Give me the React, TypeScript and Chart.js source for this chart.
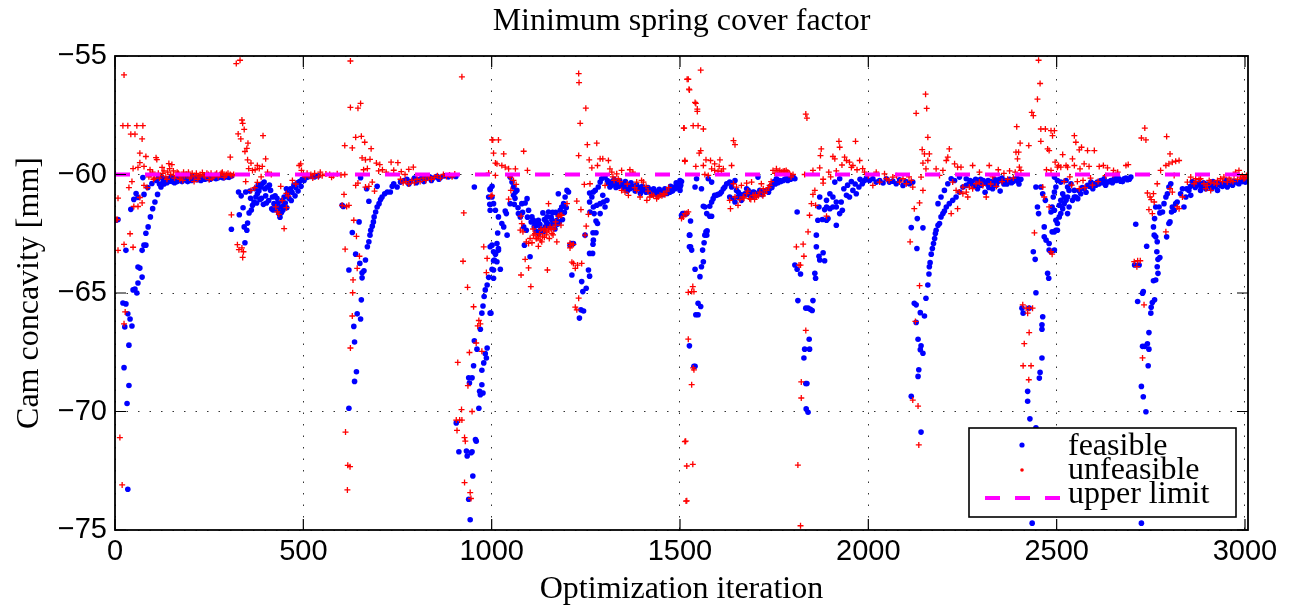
import React, { useEffect, useRef } from "react";
import { Chart, registerables } from "chart.js";

Chart.register(...registerables);

const chartTitle = "Minimum spring cover factor";
const xTitle = "Optimization iteration";
const yTitle = "Cam concavity [mm]";
const xTicks = [0, 500, 1000, 1500, 2000, 2500, 3000];
const yTicks = [-75, -70, -65, -60, -55];
const xRange = [0, 3008];
const yRange = [-75, -55];
const upperLimit = -60;
const legendLabels = ["feasible", "unfeasible", "upper limit"];

// feasible designs: [iteration, concavity]
const feasible: number[][] = [
  [3,-61.93],[8,-61.9],[21,-65.42],[24,-68.15],[26,-66.43],[29,-65.46],[29,-63.2],[32,-69.66],[34,-65.88],[34,-73.28],
  [37,-67.2],[37,-68.9],[40,-66.1],[42,-61.47],[45,-66.39],[48,-64.87],[50,-61.05],[53,-64.83],[56,-60.8],[58,-65.0],
  [61,-64.58],[61,-63.9],[61,-60.97],[66,-63.95],[72,-64.33],[72,-63.2],[74,-60.13],[77,-62.98],[77,-60.84],[82,-62.98],
  [82,-62.48],[87,-60.55],[88,-62.21],[94,-61.79],[98,-60.38],[100,-61.44],[106,-61.16],[113,-60.84],[122,-60.53],[131,-60.3],
  [140,-60.18],[110,-60.25],[115,-60.15],[125,-60.12],[130,-60.4],[135,-60.2],[145,-60.28],[150,-60.1],[155,-60.22],[160,-60.15],
  [165,-60.3],[170,-60.12],[175,-60.2],[180,-60.1],[185,-60.18],[190,-60.25],[195,-60.12],[200,-60.16],[205,-60.08],[210,-60.2],
  [215,-60.12],[220,-60.15],[225,-60.1],[230,-60.18],[235,-60.08],[240,-60.12],[245,-60.1],[250,-60.15],[255,-60.06],[260,-60.1],
  [265,-60.12],[270,-60.05],[275,-60.1],[280,-60.08],[285,-60.05],[290,-60.1],[295,-60.04],[300,-60.08],[305,-60.04],[310,-60.06],
  [309,-62.31],[328,-60.74],[330,-61.7],[343,-62.21],[345,-62.88],[347,-60.74],[350,-62.35],[352,-62.05],[356,-61.62],[365,-61.3],
  [369,-61.16],[374,-60.95],[378,-60.81],[382,-60.7],[387,-60.53],[391,-60.39],[394,-61.26],[396,-60.32],[405,-60.53],[413,-60.67],
  [418,-60.95],[422,-61.23],[427,-61.37],[431,-61.51],[435,-61.65],[440,-61.37],[444,-61.1],[449,-60.95],[458,-60.8],[466,-60.6],
  [475,-60.45],[484,-60.35],[497,-60.2],[511,-60.12],[360,-61.0],[372,-60.6],[380,-60.45],[385,-61.05],[400,-60.9],[408,-61.1],
  [410,-60.45],[416,-61.45],[425,-60.9],[433,-61.2],[438,-61.8],[446,-61.5],[452,-61.2],[455,-60.6],[462,-61.0],[470,-60.75],
  [480,-60.55],[490,-60.3],[502,-60.25],[505,-60.1],[515,-60.05],[520,-60.08],[530,-60.1],[540,-60.05],
  [603,-61.3],[606,-61.35],[621,-69.86],[621,-64.03],[630,-62.45],[634,-66.41],[636,-67.07],[636,-68.73],[639,-63.36],[641,-68.32],
  [643,-65.88],[648,-62.0],[650,-63.75],[652,-66.1],[652,-60.14],[654,-65.29],[656,-64.15],[656,-64.36],[661,-64.06],[665,-63.61],
  [668,-60.6],[670,-63.05],[674,-62.84],[674,-61.13],[677,-62.56],[679,-62.35],[683,-62.18],[686,-62.0],[688,-61.79],[692,-61.58],
  [696,-61.37],[696,-60.5],[701,-61.23],[705,-61.06],[709,-60.95],[716,-60.81],[723,-60.74],[731,-60.74],[736,-60.5],[740,-60.39],
  [749,-60.53],[758,-60.32],[767,-60.25],[775,-60.2],[785,-60.3],[795,-60.15],[805,-60.22],[815,-60.12],[825,-60.18],[835,-60.1],
  [845,-60.15],[855,-60.08],[865,-60.12],[875,-60.06],[885,-60.1],[895,-60.05],[905,-60.08],[780,-60.4],[800,-60.35],[820,-60.3],
  [840,-60.25],[860,-60.2],
  [906,-70.48],[913,-71.7],[933,-71.67],[935,-71.88],[939,-73.7],[939,-68.58],[941,-68.8],[943,-74.57],[945,-71.74],[948,-71.7],
  [948,-68.58],[950,-72.72],[952,-68.07],[954,-67.02],[954,-60.53],[957,-71.18],[959,-71.25],[961,-67.37],[966,-69.86],[968,-69.15],
  [970,-69.29],[970,-66.53],[974,-68.87],[974,-68.26],[974,-65.85],[977,-69.22],[977,-65.55],[979,-67.95],[980,-65.15],[983,-67.56],
  [983,-64.87],[986,-67.74],[988,-67.32],[988,-64.66],[992,-64.34],[992,-60.95],[995,-61.26],[996,-61.51],[996,-60.64],[998,-65.85],
  [1001,-64.0],[1001,-62.98],[1001,-60.5],[1005,-63.64],[1005,-63.26],[1010,-63.36],[1014,-62.91],[1014,-63.68],[1016,-62.47],[1018,-63.2],
  [996,-60.6],[1001,-60.95],[1005,-61.23],[1010,-61.51],[1018,-61.79],[1027,-62.07],[1032,-62.21],[1041,-62.56],[996,-63.05],[1018,-63.12],
  [1010,-63.33],[1007,-63.61],[1005,-64.03],[1005,-64.38],[1023,-64.0],[996,-65.85],[1039,-61.65],[1036,-61.54],
  [1049,-60.11],[1054,-60.32],[1058,-60.53],[1063,-60.74],[1067,-60.67],[1058,-60.88],[1049,-61.23],[1060,-61.26],[1071,-61.65],[1076,-61.79],
  [1080,-61.23],[1089,-61.2],[1094,-61.02],[1085,-62.21],[1092,-62.35],[1087,-62.98],[1102,-63.47],[1098,-61.51],[1107,-61.79],[1111,-61.93],
  [1116,-62.07],[1120,-62.14],[1124,-61.93],[1136,-61.62],[1142,-62.21],[1151,-61.58],[1147,-61.79],[1160,-61.93],[1164,-62.07],[1173,-61.93],
  [1177,-61.72],[1182,-61.51],[1186,-61.37],[1191,-61.23],[1195,-60.95],[1200,-60.67],[1204,-60.74],[1177,-60.81],[1208,-62.98],[1213,-62.91],
  [1217,-62.91],[1213,-64.24],[1130,-62.3],[1138,-62.4],[1145,-62.0],[1155,-62.2],[1168,-62.3],[1170,-61.6],[1180,-62.0],[1125,-62.5],
  [1233,-66.06],[1237,-65.71],[1244,-65.76],[1242,-64.94],[1251,-64.8],[1239,-64.52],[1257,-64.03],[1260,-64.29],
  [1248,-62.56],[1260,-63.33],[1269,-62.94],[1270,-62.77],[1269,-62.46],[1277,-62.46],[1281,-62.07],[1277,-61.96],[1288,-61.65],[1272,-61.65],
  [1261,-61.58],[1270,-61.37],[1279,-61.3],[1288,-61.23],[1260,-61.16],[1266,-60.95],[1260,-60.78],[1270,-60.74],[1275,-60.67],[1283,-60.53],
  [1288,-60.32],[1292,-60.18],[1301,-60.11],[1307,-60.25],[1310,-60.39],[1314,-60.53],[1306,-61.09],[1301,-61.37],[1297,-61.16],[1295,-60.88],
  [1268,-63.33],
  [1320,-60.3],[1328,-60.4],[1335,-60.35],[1342,-60.45],[1350,-60.4],[1357,-60.5],[1364,-60.45],[1371,-60.55],[1378,-60.5],[1385,-60.6],
  [1392,-60.55],[1399,-60.65],[1406,-60.6],[1413,-60.7],[1420,-60.65],[1427,-60.75],[1434,-60.7],[1441,-60.8],[1448,-60.75],[1455,-60.7],
  [1462,-60.72],[1469,-60.65],[1476,-60.6],[1483,-60.55],[1490,-60.45],[1497,-60.4],[1504,-60.3],[1325,-60.2],[1340,-60.25],[1355,-60.3],
  [1370,-60.35],[1385,-60.45],[1400,-60.5],[1415,-60.55],[1430,-60.6],[1445,-60.62],[1460,-60.6],[1475,-60.5],[1490,-60.35],[1500,-60.25],
  [1330,-60.55],[1360,-60.7],[1395,-60.8],[1425,-60.85],[1455,-60.85],[1480,-60.7],
  [1500,-60.53],[1500,-60.67],[1504,-61.72],[1507,-61.65],[1510,-61.65],[1513,-61.68],[1518,-61.65],[1525,-62.56],[1525,-63.05],[1525,-67.23],
  [1526,-62.56],[1528,-63.05],[1531,-63.19],[1528,-61.96],[1540,-64.0],[1557,-63.89],[1553,-64.31],[1560,-63.19],[1562,-63.68],[1564,-62.88],
  [1566,-62.56],[1569,-62.42],[1571,-62.56],[1572,-62.38],[1548,-65.43],[1555,-65.57],[1542,-65.92],[1548,-65.92],[1537,-68.09],[1540,-68.09],
  [1540,-60.53],[1557,-60.6],[1562,-61.34],[1566,-61.37],[1571,-61.65],[1579,-61.76],[1584,-61.76],[1579,-61.34],[1584,-61.16],[1588,-61.02],
  [1592,-60.88],[1597,-60.88],[1601,-60.84],[1606,-60.81],[1610,-60.74],[1615,-60.6],[1619,-60.53],[1624,-60.39],[1544,-60.18],[1575,-60.18],
  [1584,-60.32],[1632,-60.32],[1637,-60.53],[1632,-60.95],[1642,-61.02],[1646,-61.16],[1654,-60.95],[1663,-61.09],[1672,-60.81],[1681,-60.67],
  [1685,-60.88],[1694,-60.74],[1703,-60.81],[1712,-60.67],[1721,-60.74],[1730,-60.67],[1738,-60.6],[1747,-60.39],[1756,-60.18],[1765,-60.25],
  [1774,-60.25],[1782,-60.18],[1796,-60.18],[1805,-60.18],[1650,-60.67],[1677,-60.6],[1707,-60.11],[1637,-60.39],[1646,-60.25],[1660,-60.85],
  [1690,-60.95],[1700,-60.9],[1718,-60.85],[1740,-60.5],[1750,-60.3],[1760,-60.35],[1790,-60.12],[1800,-60.1],
  [1811,-61.58],[1805,-63.82],[1811,-64.0],[1820,-64.2],[1813,-65.32],[1834,-65.64],[1840,-65.64],[1853,-65.32],[1846,-65.69],[1851,-65.74],
  [1843,-66.95],[1844,-67.37],[1831,-67.37],[1829,-67.74],[1834,-68.82],[1837,-68.82],[1835,-69.89],[1840,-70.03],[1858,-64.17],[1860,-64.38],
  [1862,-63.05],[1869,-63.45],[1880,-63.3],[1871,-63.61],[1884,-63.64],[1862,-62.56],[1866,-61.93],[1878,-61.9],[1889,-61.93],[1893,-61.86],
  [1884,-61.48],[1889,-61.37],[1898,-61.44],[1906,-61.37],[1915,-61.37],[1924,-61.65],[1931,-61.51],[1915,-62.14],[1869,-61.37],[1871,-60.95],
  [1889,-61.09],[1898,-60.81],[1906,-60.95],[1915,-61.16],[1928,-61.16],[1942,-60.88],[1950,-60.95],[1959,-60.67],[1968,-60.81],[1975,-60.53],
  [1984,-60.39],[1911,-60.32],[1924,-60.18],[1935,-60.6],[1945,-60.45],[1955,-60.3],[1965,-60.4],[1978,-60.2],[1990,-60.25],
  [2003,-60.25],[2021,-60.32],[2039,-60.36],[2056,-60.32],[2074,-60.39],[2092,-60.46],[2109,-60.39],[2118,-60.32],[2012,-60.18],[2048,-60.18],
  [2083,-60.22],[1995,-60.15],[2030,-60.25],[2065,-60.28],[2100,-60.3],
  [2114,-62.24],[2130,-61.86],[2145,-62.25],[2129,-63.12],[2122,-65.43],[2127,-65.5],[2127,-66.24],[2138,-65.83],[2149,-65.97],[2132,-66.95],
  [2140,-67.23],[2145,-67.54],[2138,-67.39],[2134,-68.24],[2132,-68.52],[2114,-69.36],[2140,-70.87],
  [2153,-65.22],[2158,-64.66],[2161,-64.2],[2162,-63.89],[2164,-63.72],[2167,-63.36],[2170,-63.12],[2173,-62.91],[2176,-62.7],[2178,-62.49],
  [2180,-62.35],[2185,-62.14],[2189,-62.07],[2193,-61.79],[2198,-61.65],[2202,-61.54],[2207,-61.37],[2215,-61.23],[2224,-61.09],[2233,-60.95],
  [2242,-60.74],[2251,-60.53],[2260,-60.46],[2268,-60.39],[2185,-61.23],[2193,-60.95],[2202,-60.67],[2211,-60.39],[2220,-60.18],[2229,-60.25],
  [2242,-60.11],[2260,-60.18],
  [2275,-60.3],[2285,-60.2],[2295,-60.35],[2305,-60.25],[2315,-60.4],[2325,-60.3],[2335,-60.2],[2345,-60.3],[2355,-60.15],[2365,-60.25],
  [2375,-60.2],[2385,-60.3],[2395,-60.15],[2405,-60.2],[2280,-60.5],[2300,-60.45],[2320,-60.55],[2340,-60.45],[2360,-60.4],[2380,-60.35],
  [2400,-60.4],[2290,-60.6],[2330,-60.6],[2310,-60.75],[2350,-60.7],
  [2408,-65.64],[2411,-65.85],[2427,-65.64],[2445,-64.99],[2463,-66.0],[2461,-66.34],[2461,-66.53],[2461,-67.74],[2456,-68.35],[2454,-68.59],
  [2423,-69.15],[2423,-69.57],[2429,-70.31],[2445,-70.69],[2449,-71.04],[2435,-74.71],
  [2438,-63.26],[2443,-63.58],[2449,-61.37],[2452,-61.65],[2445,-60.53],[2458,-60.53],[2463,-60.81],[2470,-61.09],[2467,-62.21],[2467,-62.63],
  [2472,-62.77],[2480,-62.91],[2480,-63.19],[2485,-63.26],[2476,-64.17],[2479,-64.38],[2485,-61.58],[2488,-61.37],[2491,-60.95],[2494,-60.74],
  [2498,-60.53],[2488,-62.42],[2494,-62.42],[2498,-62.35],[2502,-62.07],[2507,-61.79],[2511,-61.65],[2516,-61.44],[2520,-61.23],[2525,-61.09],
  [2529,-60.95],[2533,-60.67],[2494,-60.11],[2502,-60.25],[2511,-60.32],[2525,-60.25],
  [2494,-61.51],[2498,-61.93],[2502,-62.35],[2494,-63.19],[2507,-61.3],[2511,-61.09],[2516,-60.81],[2520,-60.95],[2529,-60.53],[2538,-60.39],
  [2547,-60.67],[2551,-60.95],[2556,-61.02],[2564,-60.81],[2573,-60.6],[2582,-60.46],[2591,-60.32],[2600,-60.39],[2608,-60.32],[2617,-60.25],
  [2626,-60.18],[2635,-60.32],[2644,-60.25],[2653,-60.18],[2662,-60.11],[2670,-60.28],[2679,-60.18],[2688,-60.22],[2697,-60.11],[2542,-61.09],
  [2547,-60.95],[2533,-61.37],[2529,-61.65],
  [2710,-62.1],[2707,-63.82],[2719,-63.82],[2715,-65.36],[2730,-64.94],[2728,-65.01],[2739,-63.03],[2741,-67.14],[2728,-67.25],[2734,-67.25],
  [2745,-67.37],[2743,-68.07],[2725,-68.94],[2730,-69.38],[2737,-70.01],[2725,-74.71],[2745,-66.67],[2750,-65.85],[2751,-65.6],[2754,-65.4],
  [2760,-65.29],[2757,-64.48],[2763,-64.45],[2769,-64.17],[2767,-63.89],[2774,-63.5],[2769,-63.58],[2766,-63.26],[2767,-62.84],[2763,-62.63],
  [2759,-62.56],[2757,-62.21],[2760,-61.86],[2763,-61.37],[2772,-61.37],[2774,-61.62],[2781,-61.58],[2785,-61.23],[2790,-60.95],[2794,-60.81],
  [2798,-60.53],[2803,-60.39],[2801,-62.0],[2798,-62.07],[2792,-62.63],[2805,-61.58],[2807,-61.37],[2812,-61.51],[2816,-61.23],[2820,-61.16],
  [2829,-60.81],[2834,-60.6],[2838,-61.37],[2843,-60.95],[2851,-60.67],[2856,-60.88],[2865,-60.46],[2874,-60.39],[2882,-60.67],[2896,-60.6],
  [2909,-60.53],[2918,-60.39],[2927,-60.67],[2935,-60.46],[2944,-60.36],[2953,-60.53],[2962,-60.32],[2971,-60.28],[2984,-60.39],[2997,-60.18],
  [3001,-60.32],[2860,-60.3],[2880,-60.45],[2890,-60.35],[2900,-60.4],[2915,-60.3],[2930,-60.35],[2940,-60.5],[2950,-60.25],[2960,-60.4],
  [2975,-60.3],[2990,-60.25],[3005,-60.2]
];

// extra feasible designs inside the dense bands
const feasibleDense: number[][] = [
  [118,-60.4],[128,-60.3],[138,-60.35],[147,-60.15],[152,-60.3],[158,-60.35],[163,-60.2],[168,-60.25],[178,-60.3],[188,-60.15],
  [193,-60.3],[203,-60.25],[208,-60.15],[218,-60.22],[228,-60.25],[238,-60.2],[243,-60.18],[253,-60.2],[258,-60.15],[268,-60.18],
  [273,-60.15],[283,-60.12],[288,-60.15],[298,-60.1],[303,-60.12],
  [335,-60.9],[340,-61.4],[358,-60.7],[362,-61.5],[376,-61.2],[389,-61.0],[398,-60.6],[402,-61.2],[420,-61.5],[430,-61.0],
  [442,-61.6],[448,-61.3],[456,-61.4],[468,-61.1],[478,-60.9],[486,-60.7],[494,-60.5],
  [1062,-61.0],[1070,-61.4],[1082,-61.6],[1095,-61.8],[1105,-62.0],[1113,-62.2],[1118,-62.4],[1128,-62.1],[1140,-61.9],[1150,-62.1],
  [1158,-61.8],[1162,-61.6],[1175,-62.1],[1188,-61.9],[1193,-61.6],[1198,-61.4],
  [1318,-60.45],[1338,-60.5],[1352,-60.6],[1367,-60.6],[1381,-60.7],[1397,-60.7],[1410,-60.75],[1423,-60.8],[1438,-60.85],[1452,-60.8],
  [1466,-60.8],[1473,-60.75],[1487,-60.6],[1494,-60.55],[1502,-60.45],
  [1655,-60.75],[1665,-60.95],[1675,-60.85],[1688,-60.8],[1697,-60.75],[1705,-60.85],[1715,-60.8],[1727,-60.7],[1735,-60.75],[1744,-60.55],
  [1753,-60.4],[1768,-60.3],[1778,-60.2],[1786,-60.25],[1793,-60.2],
  [2270,-60.25],[2288,-60.4],[2298,-60.2],[2308,-60.35],[2318,-60.25],[2328,-60.45],[2338,-60.35],[2348,-60.2],[2358,-60.3],[2368,-60.4],
  [2378,-60.25],[2388,-60.2],[2398,-60.3],
  [2560,-60.7],[2568,-60.55],[2578,-60.75],[2587,-60.5],[2596,-60.6],[2604,-60.45],[2612,-60.4],[2622,-60.35],[2630,-60.45],[2640,-60.3],
  [2648,-60.35],[2658,-60.25],[2666,-60.2],[2675,-60.3],[2684,-60.15],[2693,-60.2],
  [2845,-60.6],[2855,-60.5],[2868,-60.55],[2878,-60.35],[2888,-60.5],[2905,-60.45],[2912,-60.6],[2922,-60.5],[2938,-60.4],[2948,-60.45],
  [2957,-60.35],[2967,-60.45],[2980,-60.35],[2994,-60.3],[3000,-60.25]
];

// unfeasible designs: [iteration, concavity]
const unfeasible: number[][] = [
  [3,-61.9],[6,-61.9],[8,-63.2],[8,-61.0],[13,-71.1],[19,-73.1],[21,-57.94],[24,-55.8],[24,-62.95],[24,-66.3],
  [27,-65.8],[34,-57.94],[37,-60.55],[40,-62.5],[42,-58.3],[45,-60.3],[48,-63.07],[48,-59.75],[50,-61.35],[53,-58.3],
  [58,-57.94],[61,-61.35],[61,-59.7],[66,-59.1],[66,-59.5],[66,-60.97],[72,-58.5],[72,-61.2],[74,-57.94],[77,-59.66],
  [77,-60.46],[82,-59.24],[85,-60.55],[109,-59.29],[111,-59.37],[125,-59.7],[143,-59.54],[151,-59.58],
  [90,-60.1],[95,-60.0],[100,-59.9],[105,-60.15],[115,-59.95],[120,-60.05],[130,-59.85],[135,-60.1],[140,-59.9],[148,-60.0],
  [155,-59.85],[160,-60.05],[168,-59.95],[175,-60.1],[182,-59.9],[190,-60.0],[198,-60.15],[205,-59.95],[212,-60.05],[220,-60.2],
  [226,-60.0],[232,-59.92],[240,-60.1],[248,-60.0],[255,-59.95],[262,-60.08],[270,-59.95],[278,-60.02],[285,-59.9],[292,-60.05],
  [300,-59.95],[306,-60.0],[180,-60.25],[210,-60.3],[250,-60.22],
  [306,-59.27],[309,-61.7],[310,-60.04],[315,-60.0],[322,-55.32],[325,-62.96],[327,-58.29],[329,-63.17],[332,-55.18],[334,-58.5],
  [337,-57.7],[337,-63.1],[339,-57.84],[339,-63.5],[341,-63.26],[343,-58.1],[345,-59.03],[347,-60.3],[350,-58.9],[352,-59.38],
  [353,-58.68],[361,-59.52],[361,-60.67],[371,-60.56],[378,-59.62],[378,-60.33],[391,-59.66],[393,-58.36],[400,-59.34],[427,-61.37],
  [431,-61.58],[435,-61.68],[449,-62.28],[471,-60.25],[489,-59.62],[495,-59.83],[355,-59.75],[365,-59.83],[372,-59.8],[383,-59.75],
  [388,-60.1],[405,-59.9],[415,-60.0],[440,-60.5],[455,-60.8],[460,-60.9],[480,-60.4],[500,-60.0],[505,-60.1],[510,-59.95],
  [444,-61.1],[455,-61.4],
  [493,-59.55],[515,-60.05],[520,-60.0],[530,-59.95],[540,-60.1],[550,-60.05],[560,-59.98],[570,-60.0],[580,-60.05],[590,-59.97],
  [600,-60.02],[610,-60.0],[525,-60.15],[545,-59.9],[575,-60.12],
  [603,-61.3],[608,-60.84],[610,-58.78],[611,-63.15],[612,-70.87],[615,-61.35],[617,-73.31],[618,-72.27],[621,-61.3],[624,-72.33],
  [625,-55.21],[625,-57.17],[625,-67.32],[630,-58.88],[630,-65.97],[631,-64.99],[632,-64.45],[634,-61.93],[639,-58.43],[639,-60.46],
  [641,-62.61],[643,-63.96],[645,-57.2],[645,-60.36],[649,-63.45],[652,-57.0],[654,-58.39],[656,-59.3],[663,-58.64],[665,-59.38],
  [665,-60.53],[674,-60.5],[677,-59.36],[680,-58.91],[683,-60.32],[689,-60.7],[694,-59.52],[703,-59.58],[733,-59.48],[751,-59.5],
  [780,-59.78],[792,-59.69],[660,-59.8],[670,-59.75],[700,-59.85],[710,-59.8],[720,-59.9],[740,-59.82],[760,-59.88],[770,-60.0],
  [758,-60.2],[765,-60.35],[772,-60.3],[780,-60.4],[788,-60.25],[795,-60.35],[802,-60.2],[810,-60.3],[818,-60.15],[825,-60.25],
  [832,-60.1],[840,-60.2],[848,-60.12],[856,-60.05],[864,-60.15],[872,-60.0],[880,-60.08],[888,-60.02],[895,-60.1],[902,-59.98],
  [906,-70.36],[908,-70.8],[910,-67.93],[915,-70.36],[920,-69.92],[921,-55.88],[921,-70.36],[924,-63.66],[926,-61.62],[928,-71.1],
  [928,-73.0],[930,-71.25],[936,-64.76],[937,-68.91],[941,-67.51],[943,-73.42],[945,-73.67],[948,-70.0],[952,-65.58],[959,-67.11],
  [963,-66.39],[966,-66.16],[970,-66.3],[974,-67.46],[979,-63.05],[986,-64.14],[988,-63.54],[992,-59.94],[998,-60.92],[1001,-58.54],
  [1005,-59.1],[1010,-59.52],
  [1001,-60.88],[1003,-58.54],[1010,-60.04],[1014,-59.55],[1018,-58.54],[1027,-59.62],[1032,-59.13],[1036,-59.69],[1045,-59.76],[1045,-61.04],
  [1049,-60.11],[1051,-60.67],[1058,-60.25],[1063,-59.76],[1065,-60.42],[1085,-59.02],[1095,-59.83],
  [1078,-61.76],[1080,-62.07],[1076,-62.35],[1083,-62.42],[1092,-62.84],[1098,-62.91],[1107,-62.88],[1111,-62.56],[1120,-62.7],[1124,-62.63],
  [1129,-62.77],[1133,-62.84],[1138,-62.35],[1142,-62.28],[1147,-62.42],[1151,-62.35],[1155,-62.21],[1160,-62.49],[1169,-62.14],[1177,-61.76],
  [1182,-61.72],[1186,-61.72],[1184,-62.14],[1173,-62.84],[1124,-63.03],[1089,-63.58],[1098,-63.94],[1078,-64.24],[1104,-64.73],[1148,-64.03],
  [1200,-61.23],[1151,-61.23],[1115,-62.5],[1135,-62.6],[1145,-62.55],[1165,-62.3],[1102,-62.7],
  [1208,-62.9],[1210,-63.0],[1217,-62.95],[1208,-63.1],[1213,-63.7],[1217,-63.75],[1228,-63.82],[1239,-63.75],[1222,-63.96],[1231,-65.22],
  [1222,-65.6],[1226,-65.71],
  [1231,-55.74],[1232,-56.12],[1250,-57.2],[1235,-57.84],[1231,-59.2],[1254,-58.74],[1279,-58.68],[1259,-59.38],[1266,-59.72],[1288,-59.34],
  [1281,-59.62],[1295,-59.34],[1310,-59.41],[1226,-61.12],[1237,-61.48],[1246,-60.42],[1257,-61.68],[1251,-62.18],[1261,-60.39],[1248,-62.56],
  [1319,-59.9],[1332,-59.97],[1345,-59.83],[1367,-59.8],[1314,-59.76],[1301,-60.46],[1345,-60.67],[1354,-60.74],[1363,-60.88],[1385,-60.67],
  [1394,-60.95],[1412,-61.09],[1420,-60.95],[1438,-61.02],[1447,-60.88],[1456,-60.81],[1385,-60.32],[1403,-60.32],[1398,-60.25],[1325,-60.25],
  [1336,-60.18],[1375,-59.9],[1410,-60.5],[1430,-60.9],[1465,-60.7],[1470,-60.55],
  [1509,-61.79],[1518,-61.65],[1522,-55.98],[1524,-56.4],[1511,-58.04],[1513,-59.41],[1522,-64.97],[1522,-66.95],[1515,-71.25],[1518,-72.3],
  [1518,-73.77],[1555,-55.6],[1519,-55.98],[1525,-56.43],[1540,-56.96],[1542,-57.0],[1546,-57.24],[1546,-57.34],[1535,-57.94],[1548,-57.94],
  [1562,-58.08],[1510,-58.04],[1513,-59.45],[1555,-58.99],[1551,-59.1],[1542,-59.66],[1562,-59.62],[1569,-59.38],[1581,-59.41],[1606,-59.38],
  [1592,-59.55],[1604,-59.66],[1584,-59.76],[1592,-59.83],[1601,-59.86],[1610,-59.86],[1615,-59.76],[1575,-60.04],[1566,-60.0],[1637,-59.62],
  [1642,-58.57],[1646,-58.74],[1513,-61.65],[1522,-61.58],[1504,-61.86],[1534,-64.73],[1537,-64.94],[1531,-64.94],[1535,-68.16],[1537,-68.24],
  [1531,-68.87],[1513,-71.27],[1534,-72.23],[1516,-73.78],
  [1632,-61.09],[1646,-60.95],[1654,-61.3],[1659,-61.06],[1668,-60.95],[1677,-60.81],[1685,-61.02],[1694,-60.88],[1703,-60.95],[1712,-60.74],
  [1721,-60.6],[1730,-60.67],[1738,-60.46],[1747,-59.83],[1756,-59.76],[1765,-59.83],[1774,-59.86],[1782,-59.83],[1690,-60.32],[1716,-60.39],
  [1677,-60.36],[1663,-60.46],[1642,-60.39],[1634,-61.44],[1650,-60.53],[1670,-61.0],[1698,-61.05],[1708,-60.9],[1725,-60.8],[1760,-59.9],
  [1790,-59.95],[1800,-60.0],
  [1834,-57.45],[1837,-57.62],[1875,-58.92],[1873,-59.2],[1906,-59.24],[1911,-59.34],[1922,-58.6],[1924,-58.85],[1966,-58.6],[1977,-59.41],
  [1937,-59.27],[1942,-59.41],[1950,-59.48],[1959,-59.62],[1853,-59.83],[1871,-59.72],[1831,-60.0],[1858,-60.67],[1853,-60.84],[1849,-61.23],
  [1860,-61.3],[1880,-60.36],[1889,-61.76],[1844,-61.72],[1840,-62.42],[1809,-63.05],[1827,-62.94],[1829,-63.45],[1816,-63.82],[1820,-63.82],
  [1834,-66.58],[1822,-68.75],[1822,-69.43],[1813,-72.26],[1820,-74.82],[1930,-59.6],[1955,-59.7],[1970,-59.8],[1985,-59.75],[1895,-59.9],
  [1915,-59.85],[1990,-59.9],[1880,-60.2],[1900,-60.1],
  [2012,-60.46],[2030,-60.32],[2048,-60.18],[2065,-60.11],[2083,-60.32],[2101,-60.39],[2118,-60.53],[2043,-59.97],[2021,-59.9],[2092,-60.18],
  [2114,-60.25],[2000,-60.05],[2055,-60.25],[2075,-60.05],[2108,-60.1],
  [2127,-57.42],[2152,-56.61],[2155,-57.21],[2158,-58.43],[2143,-58.95],[2149,-59.13],[2162,-59.13],[2145,-59.52],[2158,-59.41],[2153,-59.76],
  [2140,-60.11],[2145,-60.67],[2136,-61.2],[2122,-61.44],[2111,-62.84],[2136,-64.69],[2125,-66.2],[2118,-69.52],[2132,-69.77],[2134,-71.41],
  [2189,-60.04],[2207,-59.41],[2211,-59.27],[2215,-58.92],[2229,-59.55],[2237,-59.69],[2246,-59.69],[2180,-59.76],[2198,-59.83],[2224,-60.32],
  [2233,-60.67],[2242,-60.74],[2251,-60.81],[2260,-60.74],[2268,-60.53],[2277,-60.6],[2286,-60.39],[2295,-60.32],[2304,-60.46],[2313,-60.95],
  [2277,-59.62],[2295,-59.9],[2321,-59.62],[2220,-61.65],[2237,-61.44],[2251,-60.53],[2264,-60.95],[2330,-60.1],[2345,-59.8],[2360,-59.95],
  [2375,-59.85],[2390,-59.9],[2325,-60.4],[2340,-60.5],[2355,-60.3],[2370,-60.2],[2385,-60.15],
  [2394,-57.98],[2403,-58.68],[2399,-59.06],[2392,-59.06],[2396,-59.34],[2401,-59.69],[2405,-59.83],[2426,-58.78],[2434,-57.38],[2438,-57.52],
  [2449,-56.82],[2456,-56.16],[2452,-55.18],[2458,-58.08],[2470,-58.08],[2485,-58.15],[2489,-58.36],[2458,-58.6],[2476,-58.92],[2480,-58.99],
  [2496,-59.48],[2502,-59.69],[2511,-59.69],[2516,-59.16],[2525,-59.62],[2473,-59.8],[2485,-59.83],[2463,-60.53],[2467,-60.95],[2480,-61.37],
  [2441,-62.46],[2410,-65.5],[2419,-65.64],[2427,-65.64],[2436,-65.64],[2423,-65.85],[2427,-66.67],[2414,-67.14],[2411,-68.07],[2432,-68.07],
  [2426,-68.66],[2485,-63.26],[2488,-63.36],
  [2547,-58.36],[2551,-58.64],[2560,-58.96],[2566,-58.85],[2582,-58.99],[2600,-58.99],[2542,-59.34],[2547,-59.62],[2529,-59.69],[2562,-59.76],
  [2573,-59.55],[2586,-59.66],[2613,-59.66],[2624,-59.62],[2635,-59.72],[2651,-59.83],[2662,-59.9],[2684,-59.62],[2690,-59.58],[2494,-58.15],
  [2505,-59.62],[2520,-60.3],[2535,-60.1],[2555,-60.3],[2570,-60.25],[2590,-60.15],[2610,-60.3],[2630,-60.05],[2650,-60.0],[2595,-60.45],
  [2575,-60.55],[2560,-60.6],[2540,-60.45],
  [2725,-58.46],[2737,-58.54],[2734,-58.04],[2706,-63.68],[2715,-63.64],[2722,-63.64],[2713,-63.89],[2732,-65.5],[2728,-67.74],[2741,-60.78],
  [2748,-60.95],[2751,-61.06],[2757,-60.81],[2759,-61.16],[2745,-61.48],[2754,-61.65],[2767,-60.39],[2776,-59.83],[2790,-59.62],[2792,-58.4],
  [2798,-59.55],[2807,-59.48],[2816,-59.44],[2825,-59.41],[2801,-59.13],[2812,-60.04],[2790,-62.42],[2801,-60.6],[2807,-60.74],[2820,-61.37],
  [2825,-61.44],[2834,-60.95],[2847,-60.32],[2856,-60.11],[2865,-60.39],[2869,-60.18],
  [2882,-60.18],[2891,-60.39],[2900,-60.46],[2909,-60.32],[2918,-60.36],[2927,-60.25],[2935,-60.18],[2944,-60.11],[2953,-60.32],[2962,-60.25],
  [2971,-60.04],[2975,-59.9],[2984,-59.83],[2988,-60.11],[2997,-60.18],[3004,-60.04],[2896,-60.6],[2909,-60.67]
];

// extra unfeasible designs inside the dense bands
const unfeasibleDense: number[][] = [
  [93,-59.8],[102,-60.2],[118,-60.15],[127,-59.95],[138,-60.2],[145,-59.75],[158,-60.15],[165,-59.9],[172,-60.2],[185,-60.05],
  [195,-59.9],[202,-60.1],[216,-59.95],[223,-60.1],[236,-60.05],[244,-59.95],[258,-60.15],[266,-60.0],[274,-60.1],[282,-59.95],
  [290,-60.12],[296,-60.0],
  [1110,-62.3],[1118,-62.7],[1127,-62.5],[1131,-62.3],[1140,-62.65],[1153,-62.7],[1158,-62.3],[1163,-62.55],[1170,-62.0],
  [1322,-60.1],[1340,-60.3],[1360,-60.4],[1380,-60.55],[1415,-60.7],[1425,-60.85],[1442,-60.95],[1452,-60.9],[1460,-60.85],
  [1680,-60.7],[1688,-61.05],[1700,-60.85],[1720,-60.9],[1735,-60.55],[1742,-60.3],[1752,-59.95],[1770,-59.9],[1778,-59.85],[1786,-59.9],
  [1795,-60.1],
  [2870,-60.3],[2878,-60.2],[2905,-60.25],[2925,-60.4],[2940,-60.3],[2958,-60.15],[2968,-60.3],[2980,-60.2],[2993,-60.05],[3000,-60.15]
];

const frameAndTicks = {
  id: "frameAndTicks",
  afterDatasetsDraw(chart: any) {
    const { ctx, chartArea: a, scales } = chart;
    ctx.save();
    ctx.strokeStyle = "#000";
    ctx.lineWidth = 1.2;
    ctx.setLineDash([]);
    const len = 11;
    ctx.beginPath();
    for (const v of xTicks) {
      const px = scales.x.getPixelForValue(v);
      ctx.moveTo(px, a.bottom); ctx.lineTo(px, a.bottom - len);
      ctx.moveTo(px, a.top); ctx.lineTo(px, a.top + len);
    }
    for (const v of yTicks) {
      const py = scales.y.getPixelForValue(v);
      ctx.moveTo(a.left, py); ctx.lineTo(a.left + len, py);
      ctx.moveTo(a.right, py); ctx.lineTo(a.right - len, py);
    }
    ctx.stroke();
    ctx.lineWidth = 1.8;
    ctx.strokeRect(a.left, a.top, a.right - a.left, a.bottom - a.top);
    ctx.restore();
  },
};

const boxLegend = {
  id: "boxLegend",
  afterDraw(chart: any) {
    const { ctx, chartArea: a } = chart;
    const bx = a.right - 279, by = a.bottom - 102, bw = 267, bh = 89;
    ctx.save();
    ctx.fillStyle = "#fff";
    ctx.fillRect(bx, by, bw, bh);
    ctx.strokeStyle = "#000";
    ctx.lineWidth = 1.6;
    ctx.setLineDash([]);
    ctx.strokeRect(bx, by, bw, bh);
    const mx = bx + 53;
    const rows = [by + 17, by + 42, by + 70];
    ctx.fillStyle = "#0000ff";
    ctx.beginPath(); ctx.arc(mx, rows[0], 2.6, 0, Math.PI * 2); ctx.fill();
    ctx.fillStyle = "#ff0000";
    ctx.beginPath(); ctx.arc(mx, rows[1], 1.8, 0, Math.PI * 2); ctx.fill();
    ctx.strokeStyle = "#ff00ff";
    ctx.lineWidth = 4;
    ctx.setLineDash([15, 15]);
    ctx.beginPath(); ctx.moveTo(bx + 16, rows[2]); ctx.lineTo(bx + 91, rows[2]); ctx.stroke();
    ctx.setLineDash([]);
    ctx.fillStyle = "#000";
    ctx.font = "32px 'Liberation Serif', serif";
    ctx.textBaseline = "alphabetic";
    ctx.textAlign = "left";
    ctx.fillText(legendLabels[0], bx + 99, by + 27);
    ctx.fillText(legendLabels[1], bx + 99, by + 51);
    ctx.fillText(legendLabels[2], bx + 99, by + 75);
    ctx.restore();
  },
};

export default function App() {
  const ref = useRef<HTMLCanvasElement | null>(null);
  useEffect(() => {
    if (!ref.current) return;
    const serif = "'Liberation Serif', serif";
    const sans = "'Liberation Sans', Arial, sans-serif";
    const chart = new Chart(ref.current, {
      type: "scatter",
      data: {
        datasets: [
          {
            label: legendLabels[2],
            type: "line",
            data: [{ x: xRange[0], y: upperLimit }, { x: xRange[1], y: upperLimit }],
            borderColor: "#ff00ff",
            borderWidth: 4,
            borderDash: [15, 15],
            pointRadius: 0,
            showLine: true,
            fill: false,
            order: 0,
          } as any,
          {
            label: legendLabels[1],
            data: unfeasible.concat(unfeasibleDense).map(([x, y]) => ({ x, y })),
            pointStyle: "cross",
            pointRadius: 3,
            borderColor: "#ff0000",
            backgroundColor: "#ff0000",
            borderWidth: 1.3,
            order: 1,
          },
          {
            label: legendLabels[0],
            data: feasible.concat(feasibleDense).map(([x, y]) => ({ x, y })),
            pointStyle: "circle",
            pointRadius: 2.8,
            borderWidth: 0,
            backgroundColor: "#0000ff",
            borderColor: "#0000ff",
            order: 2,
          },
        ],
      },
      options: {
        animation: false,
        responsive: false,
        devicePixelRatio: 1,
        layout: { padding: { left: 0, right: 46, top: 0, bottom: 0 } },
        plugins: {
          legend: { display: false },
          tooltip: { enabled: false },
          title: {
            display: true,
            fullSize: false,
            text: chartTitle,
            color: "#000",
            font: { family: serif, size: 32, weight: "normal", lineHeight: 1 },
            padding: { top: 6, bottom: 18 },
          },
        },
        scales: {
          x: {
            type: "linear",
            min: xRange[0],
            max: xRange[1],
            afterBuildTicks: (s: any) => { s.ticks = xTicks.map((v) => ({ value: v })); },
            afterFit: (s: any) => { s.height = 77; },
            ticks: {
              autoSkip: false,
              maxRotation: 0,
              padding: 5,
              color: "#000",
              font: { family: sans, size: 29, lineHeight: 1.2 },
              callback: (v: any) => String(v),
            },
            grid: { color: "#333", lineWidth: 1, drawTicks: false } as any,
            border: { display: false, dash: [1.5, 10] },
            title: {
              display: true,
              text: xTitle,
              color: "#000",
              font: { family: serif, size: 32, weight: "normal", lineHeight: 1 },
              padding: { top: 0, bottom: 1 },
            },
          },
          y: {
            type: "linear",
            min: yRange[0],
            max: yRange[1],
            afterBuildTicks: (s: any) => { s.ticks = yTicks.map((v) => ({ value: v })); },
            afterFit: (s: any) => { s.width = 115; },
            ticks: {
              autoSkip: false,
              padding: 8,
              color: "#000",
              font: { family: sans, size: 29, lineHeight: 1.2 },
              callback: (v: any) => (v < 0 ? "\u2212" + Math.abs(v) : String(v)),
            },
            grid: { color: "#333", lineWidth: 1, drawTicks: false } as any,
            border: { display: false, dash: [1.5, 10] },
            title: {
              display: true,
              text: yTitle,
              color: "#000",
              font: { family: serif, size: 32, weight: "normal", lineHeight: 1 },
              padding: { top: 14, bottom: 0 },
            },
          },
        },
      },
      plugins: [frameAndTicks, boxLegend],
    });
    return () => chart.destroy();
  }, []);
  return (
    <div style={{ position: "fixed", left: 0, top: 0, width: 1294, height: 607, background: "#fff" }}>
      <canvas ref={ref} width={1294} height={607} />
    </div>
  );
}
